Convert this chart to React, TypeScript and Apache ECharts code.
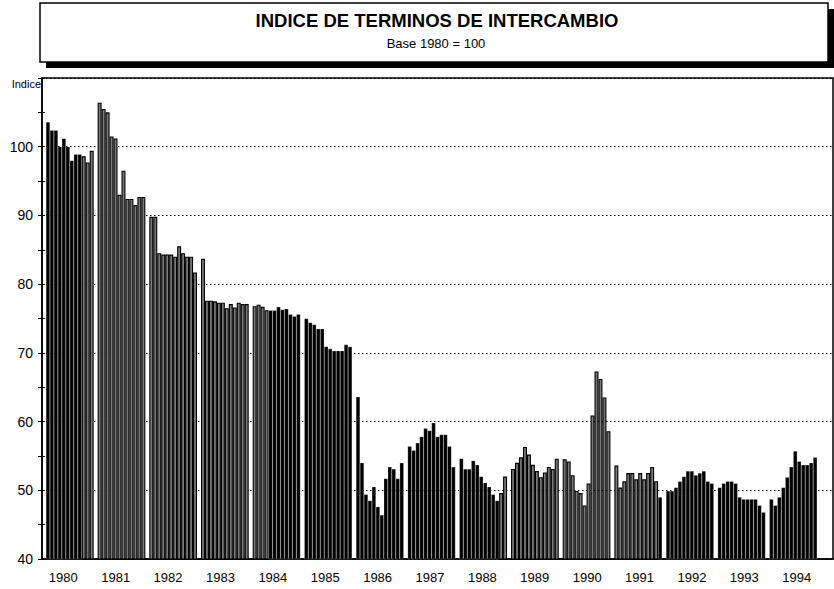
import React, { useEffect, useRef } from 'react';
import * as echarts from 'echarts';

const years = ['1980', '1981', '1982', '1983', '1984', '1985', '1986', '1987', '1988', '1989', '1990', '1991', '1992', '1993', '1994'];

const v1980 = [103.6, 102.4, 102.4, 100.0, 101.2, 100.0, 98.0, 98.9, 98.9, 98.6, 97.7, 99.4];
const v1981 = [106.4, 105.5, 105.0, 101.5, 101.2, 93.0, 96.5, 92.4, 92.4, 91.5, 92.7, 92.7];
const v1982 = [89.8, 89.8, 84.5, 84.3, 84.3, 84.3, 84.0, 85.5, 84.5, 84.0, 84.0, 81.7];
const v1983 = [83.7, 77.6, 77.6, 77.5, 77.3, 77.3, 76.5, 77.1, 76.6, 77.3, 77.1, 77.1];
const v1984 = [76.8, 77.0, 76.7, 76.2, 76.2, 76.2, 76.7, 76.3, 76.4, 75.6, 75.3, 75.6];
const v1985 = [75.0, 74.4, 74.1, 73.5, 73.5, 70.9, 70.6, 70.3, 70.3, 70.3, 71.2, 70.9];
const v1986 = [63.6, 54.0, 49.4, 48.5, 50.5, 47.6, 46.4, 51.7, 53.4, 53.1, 51.7, 54.0];
const v1987 = [56.4, 55.8, 56.9, 57.8, 59.0, 58.7, 59.8, 57.8, 58.1, 58.1, 56.4, 53.4];
const v1988 = [54.6, 53.1, 53.1, 54.3, 53.7, 52.0, 51.1, 50.5, 49.4, 48.5, 49.6, 52.0];
const v1989 = [53.1, 54.0, 54.8, 56.3, 55.2, 53.7, 52.8, 51.9, 52.6, 53.4, 53.1, 54.6];
const v1990 = [54.5, 54.2, 52.2, 49.9, 49.6, 47.8, 51.0, 60.9, 67.3, 66.2, 63.5, 58.6];
const v1991 = [53.6, 50.4, 51.3, 52.5, 52.5, 51.6, 52.5, 51.6, 52.5, 53.4, 51.3, 49.0];
const v1992 = [49.9, 49.9, 50.4, 51.3, 52.0, 52.8, 52.8, 52.2, 52.5, 52.8, 51.3, 51.0];
const v1993 = [50.4, 51.0, 51.3, 51.3, 51.0, 49.0, 48.7, 48.7, 48.7, 48.7, 47.8, 46.8];
const v1994 = [48.7, 47.8, 49.0, 50.4, 51.9, 53.4, 55.7, 54.2, 53.7, 53.7, 54.0, 54.8];

const yearValues = [v1980, v1981, v1982, v1983, v1984, v1985, v1986, v1987, v1988, v1989, v1990, v1991, v1992, v1993, v1994];

const FONT = '"Liberation Sans", Arial, sans-serif';

// which bars render with visible grey fill (as in the reference print)
function isLight(yi: number, m: number): boolean {
  if (yi === 0) return m >= 9;
  if (yi >= 1 && yi <= 3) return true;
  if (yi === 4) return m <= 3;
  if (yi === 8) return m >= 10;
  if (yi === 9 || yi === 10) return true;
  if (yi === 11) return m <= 10;
  return false;
}

export default function App() {
  const ref = useRef<HTMLDivElement>(null);
  useEffect(() => {
    const chart = echarts.init(ref.current as HTMLDivElement, null, { renderer: 'svg' });
    const cats: string[] = [];
    const data: any[] = [];
    cats.push('lead');
    data.push(null);
    years.forEach((yr, yi) => {
      yearValues[yi].forEach((v, m) => {
        cats.push(yr + '-' + (m + 1));
        const light = isLight(yi, m);
        data.push({
          value: v,
          itemStyle: light
            ? { color: '#7a7a7a', borderColor: '#000', borderWidth: 1.1 }
            : { color: '#000', borderColor: 'rgba(255,255,255,0.55)', borderWidth: 0.35 },
        });
      });
      cats.push(yr + '-gap');
      data.push(null);
    });
    for (let i = 0; i < 3; i++) {
      cats.push('trail' + i);
      data.push(null);
    }

    const option: any = {
      animation: false,
      backgroundColor: '#fff',
      grid: [
        { left: 42, right: 1, top: 78, bottom: 30, show: true, borderColor: '#000', borderWidth: 1.5, backgroundColor: 'transparent' },
        { left: 37.1, width: 785.8, top: 78, bottom: 30 },
      ],
      xAxis: [
        {
          type: 'category',
          gridIndex: 0,
          data: cats,
          boundaryGap: true,
          axisLine: { show: true, lineStyle: { color: '#000', width: 1.5 } },
          axisTick: { show: false },
          axisLabel: { show: false },
          splitLine: { show: false },
        },
        {
          type: 'category',
          gridIndex: 1,
          data: years,
          boundaryGap: true,
          axisLine: { show: false },
          axisTick: { show: false },
          axisLabel: { show: true, color: '#000', fontSize: 13, fontFamily: FONT, margin: 12 },
          splitLine: { show: false },
        },
      ],
      yAxis: [
        {
          type: 'value',
          gridIndex: 0,
          min: 40,
          max: 110,
          interval: 10,
          axisLine: { show: true, lineStyle: { color: '#000', width: 1.5 } },
          axisTick: { show: true, length: 4, lineStyle: { color: '#000', width: 1 } },
          minorTick: { show: true, splitNumber: 2, length: 4, lineStyle: { color: '#000', width: 1 } },
          axisLabel: {
            color: '#000',
            fontSize: 14,
            fontFamily: FONT,
            margin: 9,
            formatter: (v: number) => (v === 110 ? '' : String(v)),
          },
          splitLine: { show: true, lineStyle: { color: '#000', width: 1, type: [1.5, 2.5] } },
        },
        {
          type: 'value',
          gridIndex: 0,
          min: 40,
          max: 110,
          interval: 5,
          position: 'left',
          axisLine: { show: false },
          axisTick: { show: true, inside: true, length: 3, lineStyle: { color: '#000', width: 1 } },
          axisLabel: { show: false },
          splitLine: { show: false },
        },
        { type: 'value', gridIndex: 1, show: false, min: 0, max: 1 },
      ],
      series: [
        {
          type: 'bar',
          xAxisIndex: 0,
          yAxisIndex: 0,
          data,
          barCategoryGap: '0%',
          barGap: '0%',
        },
      ],
      graphic: [
        { type: 'rect', shape: { x: 46, y: 9, width: 788, height: 59 }, style: { fill: '#000' }, z: 10 },
        { type: 'rect', shape: { x: 40, y: 3, width: 788, height: 59 }, style: { fill: '#fff', stroke: '#000', lineWidth: 1.5 }, z: 11 },
        {
          type: 'text', x: 437, y: 20, z: 12,
          style: { text: 'INDICE DE TERMINOS DE INTERCAMBIO', fill: '#000', font: 'bold 18.5px ' + FONT, textAlign: 'center', textVerticalAlign: 'middle' },
        },
        {
          type: 'text', x: 436, y: 43, z: 12,
          style: { text: 'Base 1980 = 100', fill: '#000', font: '13px ' + FONT, textAlign: 'center', textVerticalAlign: 'middle' },
        },
        {
          type: 'text', x: 41, y: 84, z: 12,
          style: { text: 'Indice', fill: '#000', font: '11px ' + FONT, textAlign: 'right', textVerticalAlign: 'middle' },
        },
      ],
    };
    chart.setOption(option);
    return () => chart.dispose();
  }, []);
  return <div ref={ref} style={{ position: 'fixed', left: 0, top: 0, width: 834, height: 589 }} />;
}
